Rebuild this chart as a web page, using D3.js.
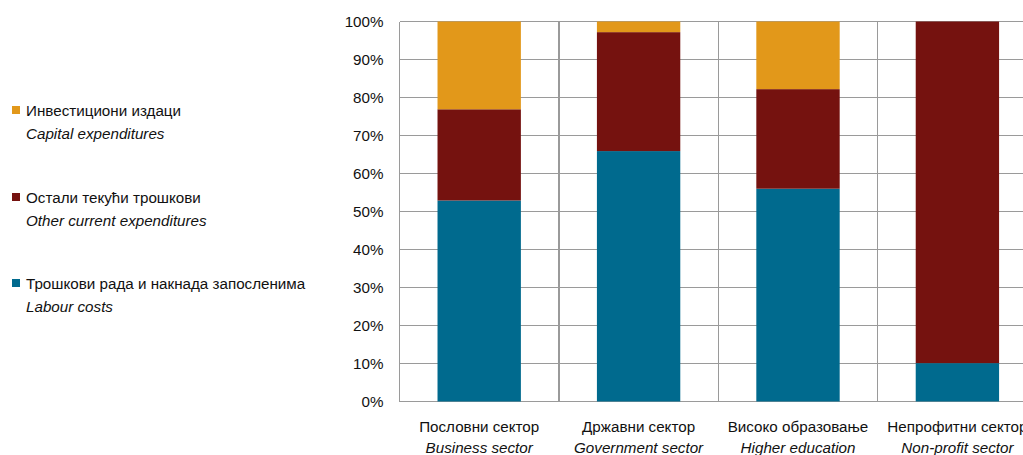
<!DOCTYPE html>
<html lang="sr">
<head>
<meta charset="utf-8">
<title>Structure of R&D expenditures by sector</title>
<script src="https://cdn.jsdelivr.net/npm/d3@7"></script>
<style>
  body { margin: 0; background: #fff; }
  svg { display: block; font-family: "Liberation Sans", Arial, sans-serif; }
  .grid line { stroke: #9a9a9a; stroke-width: 1.4px; shape-rendering: crispEdges; }
  .axis text { font-size: 15.2px; fill: #111; }
  .legend text { font-size: 15.2px; fill: #111; }
  .cat text { font-size: 15.2px; fill: #111; }
</style>
</head>
<body>
<script>
// sectors (serbian / english)
var sectorsSr = ["Пословни сектор", "Државни сектор", "Високо образовање", "Непрофитни сектор"];
var sectorsEn = ["Business sector", "Government sector", "Higher education", "Non-profit sector"];

// shares in %
var labour  = [52.9, 65.9, 56.0, 10.1];
var other   = [24.0, 31.3, 26.2, 89.9];
var capital = [23.1, 2.8, 17.8, 0];

var seriesKeys = ["labour", "other", "capital"];
var seriesSr = ["Трошкови рада и накнада запосленима", "Остали текући трошкови", "Инвестициони издаци"];
var seriesEn = ["Labour costs", "Other current expenditures", "Capital expenditures"];
var colors = ["#006a8e", "#75120f", "#e2981a"];

var yTicks = [0, 10, 20, 30, 40, 50, 60, 70, 80, 90, 100];

var W = 1023, H = 455;
var plot = {left: 399.5, top: 21.5, bottom: 401.5, step: 159.4};

var rows = sectorsSr.map(function (s, i) {
    return {sector: s, en: sectorsEn[i], labour: labour[i], other: other[i], capital: capital[i]};
});

var svg = d3.select("body").append("svg")
    .attr("width", W)
    .attr("height", H);

var x = d3.scaleBand()
    .domain(sectorsSr)
    .range([plot.left, plot.left + plot.step * sectorsSr.length]);

var y = d3.scaleLinear()
    .domain([0, 100])
    .range([plot.bottom, plot.top]);

var color = d3.scaleOrdinal().domain(seriesKeys).range(colors);

// horizontal grid
svg.append("g").attr("class", "grid")
    .selectAll("line")
    .data(yTicks)
    .enter().append("line")
    .attr("x1", plot.left)
    .attr("x2", W)
    .attr("y1", function (d) { return y(d); })
    .attr("y2", function (d) { return y(d); });

// vertical lines at category boundaries (plus the axis line)
svg.append("g").attr("class", "grid")
    .selectAll("line")
    .data(sectorsSr)
    .enter().append("line")
    .attr("x1", function (d) { return x(d); })
    .attr("x2", function (d) { return x(d); })
    .attr("y1", plot.top)
    .attr("y2", plot.bottom);

// stacked bars
var stack = d3.stack().keys(seriesKeys)(rows);
var barW = x.bandwidth() * 0.523;

svg.append("g")
    .selectAll("g")
    .data(stack)
    .enter().append("g")
    .attr("fill", function (d) { return color(d.key); })
    .selectAll("rect")
    .data(function (d) { return d; })
    .enter().append("rect")
    .attr("x", function (d) { return x(d.data.sector) + (x.bandwidth() - barW) / 2; })
    .attr("width", barW)
    .attr("y", function (d) { return y(d[1]); })
    .attr("height", function (d) { return y(d[0]) - y(d[1]); });

// y axis labels
var yAxis = svg.append("g")
    .attr("class", "axis")
    .attr("transform", "translate(" + plot.left + ",0)")
    .call(d3.axisLeft(y).tickValues(yTicks).tickSize(0).tickPadding(16)
        .tickFormat(function (d) { return d + "%"; }));
yAxis.select(".domain").remove();

// category labels
var cat = svg.append("g").attr("class", "cat")
    .selectAll("g")
    .data(rows)
    .enter().append("g")
    .attr("transform", function (d) { return "translate(" + (x(d.sector) + x.bandwidth() / 2) + ",0)"; });
cat.append("text")
    .attr("y", plot.bottom + 30)
    .attr("text-anchor", "middle")
    .text(function (d) { return d.sector; });
cat.append("text")
    .attr("y", plot.bottom + 51)
    .attr("text-anchor", "middle")
    .style("font-style", "italic")
    .text(function (d) { return d.en; });

// legend, capital on top
var legendY = [110, 197, 283];
var legendOrder = [2, 1, 0];
var leg = svg.append("g").attr("class", "legend")
    .selectAll("g")
    .data(legendOrder)
    .enter().append("g")
    .attr("transform", function (d, i) { return "translate(12," + legendY[i] + ")"; });
leg.append("rect")
    .attr("x", 0)
    .attr("y", -4)
    .attr("width", 8)
    .attr("height", 8)
    .attr("fill", function (d) { return colors[d]; });
leg.append("text")
    .attr("x", 14)
    .attr("y", 5.5)
    .text(function (d) { return seriesSr[d]; });
leg.append("text")
    .attr("x", 14)
    .attr("y", 29)
    .style("font-style", "italic")
    .text(function (d) { return seriesEn[d]; });
</script>
</body>
</html>
